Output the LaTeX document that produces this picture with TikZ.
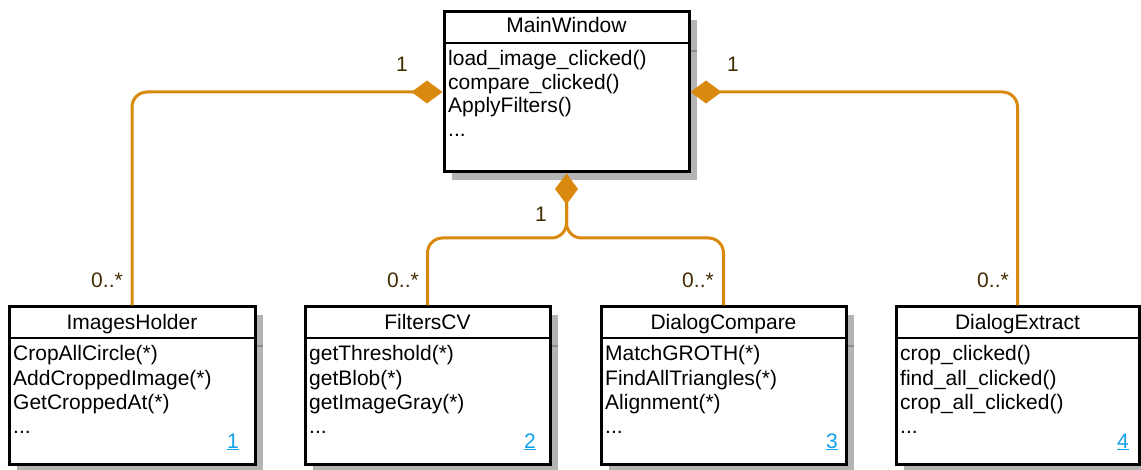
\documentclass[tikz,border=0pt]{standalone}
\usepackage{fontspec}
\setmainfont{Liberation Sans}
\usetikzlibrary{arrows.meta}
\definecolor{conncol}{RGB}{217,137,13}
\definecolor{labcol}{RGB}{64,44,0}
\definecolor{linkcol}{RGB}{16,160,233}
\definecolor{shadowcol}{RGB}{180,180,180}
\definecolor{shadowline}{RGB}{140,140,140}
\tikzset{
  boxst/.style={draw=black, line width=3pt, fill=white, inner sep=0pt, outer sep=1.5pt},
  titlest/.style={inner sep=0pt, anchor=base, text=black},
  methst/.style={inner sep=0pt, anchor=base west, text=black},
  labst/.style={inner sep=0pt, anchor=base, text=labcol},
  linkst/.style={inner sep=0pt, anchor=base, text=linkcol},
  conn/.style={draw=conncol, line width=3pt, rounded corners=15pt},
  compo/.style={{Diamond[length=31pt,width=23pt,line width=0pt]}-}
}
\newcommand\classbox[6]{% name, left, top, right, bottom, separator y
  \fill[shadowcol] ({#2+8},{#3+8}) rectangle ({#4+8},{#5+8});
  \draw[shadowline, line width=1.5pt] (#4,{#6+8}) -- ({#4+8},{#6+8});
  \node[boxst, minimum width={(#4-#2)*1pt}, minimum height={(#5-#3)*1pt}] (#1) at ({(#2+#4)/2},{(#3+#5)/2}) {};
  \draw[line width=1.5pt] (#2,#6) -- (#4,#6);
}
\begin{document}
\begin{tikzpicture}[x=1pt,y=-1pt,font=\fontsize{21}{24}\selectfont]
\useasboundingbox (0,0) rectangle (1141,470);

% MainWindow
\classbox{mw}{444}{12}{689}{172}{43}
\node[titlest] (mwt) at (566.5,33) {MainWindow};
\node[methst] (mw1) at (448,66) {load\_image\_clicked()};
\node[methst] (mw2) at (448,90) {compare\_clicked()};
\node[methst] (mw3) at (448,113) {ApplyFilters()};
\node[methst] (mw4) at (448,137) {...};

% ImagesHolder
\classbox{ih}{9}{307}{255}{464}{338}
\node[titlest] (iht) at (132,330) {ImagesHolder};
\node[methst] (ih1) at (13,361) {CropAllCircle(*)};
\node[methst] (ih2) at (13,385) {AddCroppedImage(*)};
\node[methst] (ih3) at (13,409) {GetCroppedAt(*)};
\node[methst] (ih4) at (13,433) {...};
\node[linkst] (ihl) at (233,448) {\underline{1}};

% FiltersCV
\classbox{fc}{305}{307}{550}{464}{338}
\node[titlest] (fct) at (427.5,330) {FiltersCV};
\node[methst] (fc1) at (309,361) {getThreshold(*)};
\node[methst] (fc2) at (309,385) {getBlob(*)};
\node[methst] (fc3) at (309,409) {getImageGray(*)};
\node[methst] (fc4) at (309,433) {...};
\node[linkst] (fcl) at (530,448) {\underline{2}};

% DialogCompare
\classbox{dc}{601}{307}{846}{464}{338}
\node[titlest] (dct) at (723.5,330) {DialogCompare};
\node[methst] (dc1) at (605,361) {MatchGROTH(*)};
\node[methst] (dc2) at (605,385) {FindAllTriangles(*)};
\node[methst] (dc3) at (605,409) {Alignment(*)};
\node[methst] (dc4) at (605,433) {...};
\node[linkst] (dcl) at (832,448) {\underline{3}};

% DialogExtract
\classbox{de}{896}{307}{1139}{464}{338}
\node[titlest] (det) at (1017.5,330) {DialogExtract};
\node[methst] (de1) at (900,361) {crop\_clicked()};
\node[methst] (de2) at (900,385) {find\_all\_clicked()};
\node[methst] (de3) at (900,409) {crop\_all\_clicked()};
\node[methst] (de4) at (900,433) {...};
\node[linkst] (del) at (1123,448) {\underline{4}};

% connectors
\coordinate (split) at (566.5,238);
\draw[conn, compo] (mw.west) -| (ih.north);
\draw[conn, compo] (mw.east) -| (de.north);
\draw[conn, compo] (mw.south) -- (split) -| (fc.north);
\draw[conn] (mw.south) ++(0,30) -- (split) -| (dc.north);

% multiplicities
\node[labst] (l1) at (402,72) {1};
\node[labst] (l2) at (733,72) {1};
\node[labst] (l3) at (541,222) {1};
\node[labst] (m1) at (107,288) {0..*};
\node[labst] (m2) at (403,288) {0..*};
\node[labst] (m3) at (698,288) {0..*};
\node[labst] (m4) at (993,288) {0..*};
\end{tikzpicture}
\end{document}
